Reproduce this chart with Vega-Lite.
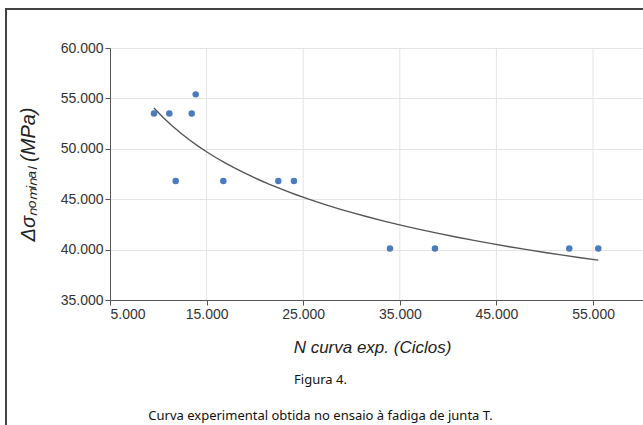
{
  "$schema": "https://vega.github.io/schema/vega-lite/v6.json",
  "width": 643,
  "height": 422,
  "autosize": {"type": "none"},
  "padding": {"left": 6, "top": 9, "right": -6, "bottom": -6},
  "title": {
    "text": "Figura 4.",
    "subtitle": "Curva experimental obtida no ensaio à fadiga de junta T.",
    "orient": "bottom",
    "anchor": "middle",
    "frame": "group",
    "offset": -57,
    "dx": -7,
    "font": "Noto Sans",
    "fontSize": 13,
    "fontWeight": "normal",
    "color": "#111111",
    "subtitleFont": "Noto Sans",
    "subtitleFontSize": 13,
    "subtitleColor": "#111111",
    "subtitlePadding": 23
  },
  "data": {
    "values": [
      {"n": 9555, "s": 53500},
      {"n": 11140, "s": 53500},
      {"n": 13460, "s": 53500},
      {"n": 13870, "s": 55400},
      {"n": 11800, "s": 46800},
      {"n": 16730, "s": 46800},
      {"n": 22420, "s": 46800},
      {"n": 24040, "s": 46800},
      {"n": 33980, "s": 40100},
      {"n": 38640, "s": 40100},
      {"n": 52540, "s": 40100},
      {"n": 55540, "s": 40100}
    ]
  },
  "encoding": {
    "x": {
      "field": "n",
      "type": "quantitative",
      "scale": {"domain": [5000, 61000], "range": [104, 645], "nice": false, "zero": false},
      "axis": {
        "title": "N curva exp. (Ciclos)",
        "values": [5000, 15000, 25000, 35000, 45000, 55000],
        "format": ",.0f",
        "offset": -131,
        "grid": false,
        "labelFont": "Liberation Sans",
        "labelFontSize": 14,
        "labelColor": "#333333",
        "labelPadding": 2,
        "tickSize": 5,
        "tickColor": "#555555",
        "domainColor": "#555555",
        "titleFont": "Liberation Sans",
        "titleFontSize": 17,
        "titleFontStyle": "italic",
        "titleFontWeight": "normal",
        "titleColor": "#222222",
        "titlePadding": 18,
        "titleX": 366
      }
    },
    "y": {
      "field": "s",
      "type": "quantitative",
      "scale": {"domain": [35000, 60000], "range": [291, 39], "nice": false, "zero": false},
      "axis": {
        "title": "Δσₙₒₘᵢₙₐₗ (MPa)",
        "values": [35000, 40000, 45000, 50000, 55000, 60000],
        "format": ",.0f",
        "offset": -104,
        "grid": true,
        "gridColor": "#e4e4e4",
        "labelFont": "Liberation Sans",
        "labelFontSize": 14,
        "labelColor": "#333333",
        "labelPadding": 2,
        "tickSize": 5,
        "tickColor": "#555555",
        "domainColor": "#555555",
        "titleFont": "Liberation Sans",
        "titleFontSize": 20,
        "titleFontStyle": "italic",
        "titleFontWeight": "normal",
        "titleColor": "#222222",
        "titlePadding": 22
      }
    }
  },
  "layer": [
    {
      "data": {
        "values": [
          {"n": 15000, "s": 35000, "s2": 60000},
          {"n": 25000, "s": 35000, "s2": 60000},
          {"n": 35000, "s": 35000, "s2": 60000},
          {"n": 45000, "s": 35000, "s2": 60000},
          {"n": 55000, "s": 35000, "s2": 60000}
        ]
      },
      "mark": {"type": "rule", "color": "#e4e4e4", "strokeWidth": 1},
      "encoding": {
        "y2": {"field": "s2"}
      }
    },
    {
      "transform": [{"regression": "s", "on": "n", "method": "pow"}],
      "mark": {"type": "line", "color": "#555555", "strokeWidth": 1.4}
    },
    {
      "mark": {"type": "circle", "color": "#4a7bbd", "size": 42, "opacity": 1}
    }
  ],
  "config": {
    "locale": {"number": {"decimal": ",", "thousands": ".", "grouping": [3], "currency": ["", " €"]}},
    "view": {"stroke": "#444444", "strokeWidth": 2}
  }
}
